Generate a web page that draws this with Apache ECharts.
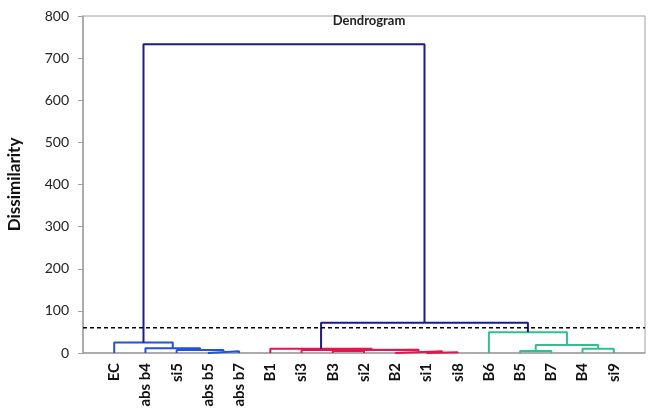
<!DOCTYPE html>
<html>
<head>
<meta charset="utf-8">
<script src="https://cdn.jsdelivr.net/npm/echarts@6/dist/echarts.min.js"></script>
<style>
  html, body { margin: 0; padding: 0; background: #fff; }
  #chart { width: 649px; height: 420px; }
</style>
</head>
<body>
<div id="chart"></div>
<script>
// leaves, left to right
var leaves = ['EC', 'abs b4', 'si5', 'abs b5', 'abs b7', 'B1', 'si3', 'B3', 'si2', 'B2', 'si1', 'si8', 'B6', 'B5', 'B7', 'B4', 'si9'];

// merges: [left node, right node, height]; node ids 0..16 are leaves, 17+ are merges in order
var merges = [
    [3, 4, 4],
    [2, 17, 7],
    [1, 18, 11],
    [0, 19, 25],
    [7, 8, 5],
    [6, 21, 7],
    [10, 11, 2],
    [9, 23, 4],
    [22, 24, 8],
    [5, 25, 10],
    [13, 14, 5],
    [15, 16, 10],
    [27, 28, 19],
    [12, 29, 49],
    [26, 30, 72],
    [20, 31, 733]
];
var mergeGroup = ['b', 'b', 'b', 'b', 'r', 'r', 'r', 'r', 'r', 'r', 'g', 'g', 'g', 'g', 'n', 'n'];
var groupColors = { b: '#1f55d6', r: '#e3164e', g: '#2fc08c', n: '#1c1c88' };

var cutLevel = 60;
var yTicks = [0, 100, 200, 300, 400, 500, 600, 700, 800];

// node positions: leaf i at x = i+1, merge at midpoint of its children
var nodeX = leaves.map(function(l, i) { return i + 1; });
var nodeH = leaves.map(function() { return 0; });
var series = [];
merges.forEach(function(m, idx) {
    var xl = nodeX[m[0]], xr = nodeX[m[1]];
    var hl = nodeH[m[0]], hr = nodeH[m[1]];
    nodeX.push((xl + xr) / 2);
    nodeH.push(m[2]);
    series.push({
        type: 'line',
        symbol: 'none',
        silent: true,
        z: mergeGroup[idx] === 'n' ? 3 : 2,
        lineStyle: { color: groupColors[mergeGroup[idx]], width: 2 },
        data: [[xl, hl], [xl, m[2]], [xr, m[2]], [xr, hr]]
    });
});

series.push({
    type: 'line',
    symbol: 'none',
    silent: true,
    z: 4,
    lineStyle: { color: '#000', width: 1.5, type: [4, 3] },
    data: [[0, cutLevel], [leaves.length + 1, cutLevel]]
});

var chart = echarts.init(document.getElementById('chart'));
chart.setOption({
    animation: false,
    title: {
        text: 'Dendrogram',
        left: 364,
        top: 9,
        textAlign: 'center',
        textStyle: { fontFamily: 'Lato', fontWeight: 'bold', fontSize: 13, color: '#222' }
    },
    grid: {
        left: 83, top: 16, right: 4, bottom: 67,
        outerBoundsMode: 'none',
        containLabel: false,
        show: true, borderColor: '#a0a0a0', borderWidth: 1
    },
    xAxis: {
        type: 'value',
        min: 0,
        max: leaves.length + 1,
        interval: 1,
        splitLine: { show: false },
        axisTick: { show: false },
        axisLine: { lineStyle: { color: '#a0a0a0', width: 1.5 } },
        axisLabel: {
            rotate: 90,
            margin: 10,
            fontFamily: 'Lato',
            fontWeight: 'bold',
            fontSize: 15,
            color: '#111',
            formatter: function(v) {
                return leaves[v - 1] || '';
            }
        }
    },
    yAxis: {
        type: 'value',
        min: yTicks[0],
        max: yTicks[yTicks.length - 1],
        interval: 100,
        name: 'Dissimilarity',
        nameLocation: 'middle',
        nameGap: 60,
        nameTextStyle: { fontFamily: 'Lato', fontWeight: 'bold', fontSize: 17, color: '#111' },
        splitLine: { show: false },
        axisLine: { show: true, lineStyle: { color: '#a0a0a0', width: 1.5 } },
        axisTick: { show: true, length: 5, lineStyle: { color: '#a0a0a0' } },
        axisLabel: { fontFamily: 'Lato', fontSize: 14, color: '#222', margin: 14 }
    },
    series: series
});
</script>
</body>
</html>
